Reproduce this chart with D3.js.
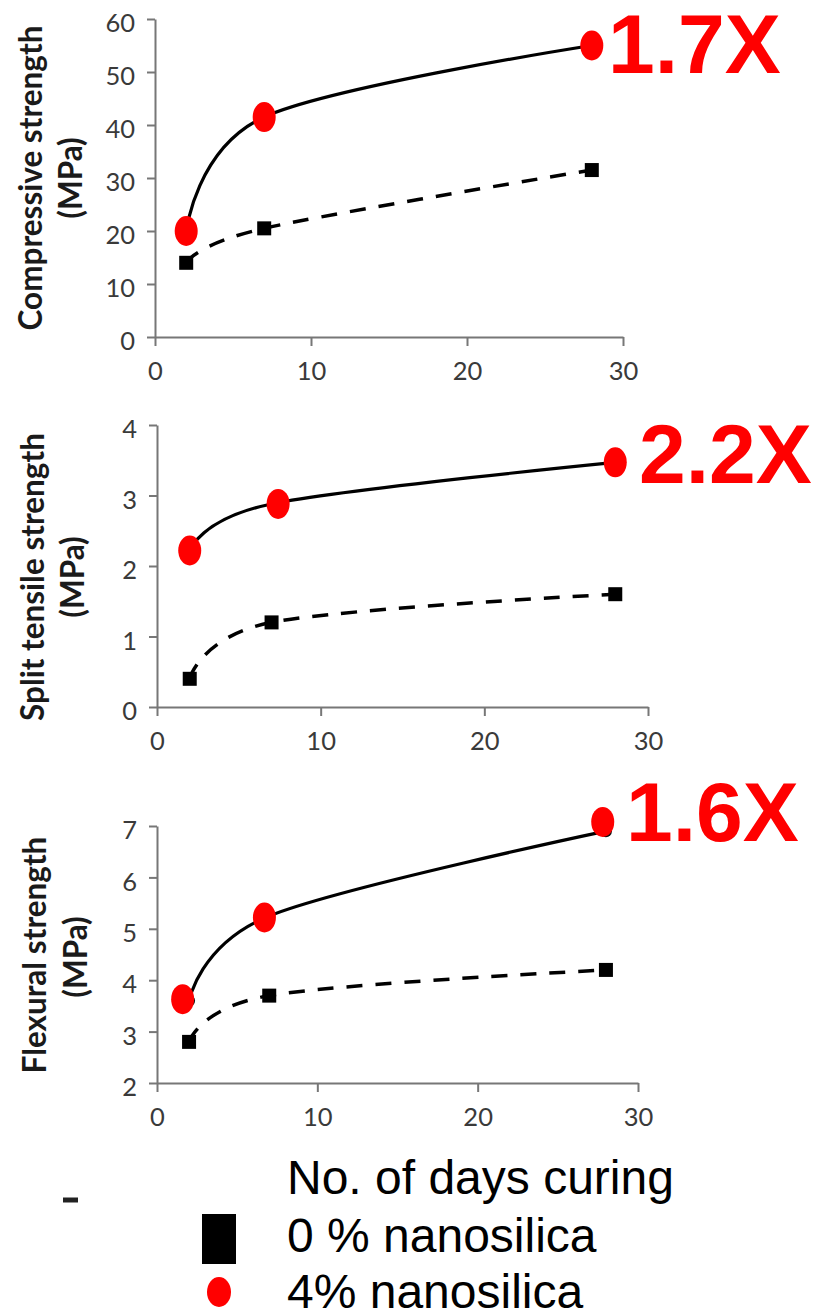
<!DOCTYPE html>
<html>
<head>
<meta charset="utf-8">
<script src="https://cdn.jsdelivr.net/npm/d3@7"></script>
<style>
  html, body { margin: 0; padding: 0; background: #fff; }
  svg { display: block; }
</style>
</head>
<body>
<svg id="chart" width="832" height="1312"></svg>
<script>
// ---------------- DATA ----------------
const daysCuring = [2, 7, 28];
const xTickValues = [0, 10, 20, 30];

const compressive0 = [14, 20.5, 31.5];
const compressive4 = [20, 41.5, 55];
const compressiveMarkerDays = [2, 7, 28];
const compressiveMarker4 = [20, 41.5, 55];
const compressiveTicks = [0, 10, 20, 30, 40, 50, 60];

const split0 = [0.4, 1.2, 1.6];
const split4 = [2.22, 2.88, 3.47];
const splitMarkerDays = [2, 7.4, 28];
const splitMarker4 = [2.22, 2.88, 3.47];
const splitTicks = [0, 1, 2, 3, 4];

const flexural0 = [2.8, 3.7, 4.2];
const flexural4 = [3.6, 5.25, 6.9];
const flexuralMarkerDays = [1.6, 6.7, 27.8];
const flexuralMarker4 = [3.63, 5.22, 7.08];
const flexuralTicks = [2, 3, 4, 5, 6, 7];

const yTitles = [
  ["Compressive strength", "(MPa)"],
  ["Split tensile strength", "(MPa)"],
  ["Flexural strength", "(MPa)"]
];
const ratioLabels = ["1.7X", "2.2X", "1.6X"];

const legendTitle = "No. of days curing";
const legendLabels = ["0 % nanosilica", "4% nanosilica"];

// ---------------- LAYOUT ----------------
const panels = [
  { base: compressive0, nano: compressive4, mDays: compressiveMarkerDays, mVals: compressiveMarker4,
    ticks: compressiveTicks, yDomain: [0, 60], xRange: [155, 623], yRange: [337, 19],
    t1: [42, 178], t2: [82, 178], ratio: [608, 73], blackDots: false },
  { base: split0, nano: split4, mDays: splitMarkerDays, mVals: splitMarker4,
    ticks: splitTicks, yDomain: [0, 4], xRange: [157, 648], yRange: [707, 425],
    t1: [44, 577], t2: [84, 577], ratio: [639, 483], blackDots: false },
  { base: flexural0, nano: flexural4, mDays: flexuralMarkerDays, mVals: flexuralMarker4,
    ticks: flexuralTicks, yDomain: [2, 7], xRange: [157, 638], yRange: [1083, 826],
    t1: [46, 955], t2: [87, 957], ratio: [626, 841], blackDots: true }
];

const svg = d3.select("#chart");
svg.append("rect").attr("width", 832).attr("height", 1312).attr("fill", "#fff");

const axisColor = "#777";
const tickTextColor = "#3a3a3a";
const calibriLike = "Lato, 'Open Sans', sans-serif";
const arialLike = "'Liberation Sans', Arial, Helvetica, sans-serif";

panels.forEach((p, i) => {
  const x = d3.scaleLinear().domain([0, 30]).range(p.xRange);
  const y = d3.scaleLinear().domain(p.yDomain).range(p.yRange);
  const g = svg.append("g");

  // axes
  const xAxis = g.append("g")
    .attr("transform", `translate(0,${p.yRange[0]})`)
    .call(d3.axisBottom(x).tickValues(xTickValues).tickSizeInner(9).tickSizeOuter(0).tickPadding(16).tickFormat(d3.format("d")));
  const yAxis = g.append("g")
    .attr("transform", `translate(${p.xRange[0]},0)`)
    .call(d3.axisLeft(y).tickValues(p.ticks).tickSizeInner(8).tickSizeOuter(0).tickPadding(12).tickFormat(d3.format("d")));
  [xAxis, yAxis].forEach(a => {
    a.selectAll("path.domain").attr("stroke", axisColor).attr("stroke-width", 2);
    a.selectAll(".tick line").attr("stroke", axisColor).attr("stroke-width", 2);
    a.selectAll(".tick text").attr("fill", tickTextColor)
      .attr("font-family", calibriLike).attr("font-size", 25.5);
  });
  yAxis.selectAll(".tick text").attr("dy", "0.5em");

  // y titles
  g.append("text")
    .attr("transform", `translate(${p.t1[0]},${p.t1[1]}) rotate(-90)`)
    .attr("text-anchor", "middle")
    .attr("font-family", calibriLike).attr("font-weight", "bold")
    .attr("font-size", 31.5).attr("fill", "#1a1a1a")
    .text(yTitles[i][0]);
  g.append("text")
    .attr("transform", `translate(${p.t2[0]},${p.t2[1]}) rotate(-90)`)
    .attr("text-anchor", "middle")
    .attr("font-family", calibriLike).attr("font-weight", "bold")
    .attr("font-size", 31.5).attr("fill", "#1a1a1a")
    .text(yTitles[i][1]);

  const line = d3.line().x(d => x(d[0])).y(d => y(d[1])).curve(d3.curveCardinal.tension(0));

  // 0% dashed series
  const baseData = daysCuring.map((d, k) => [d, p.base[k]]);
  g.append("path").datum(baseData)
    .attr("d", line).attr("fill", "none").attr("stroke", "#000")
    .attr("stroke-width", 3.5).attr("stroke-dasharray", "16,13");
  g.selectAll("rect.sq").data(baseData).enter().append("rect")
    .attr("x", d => x(d[0]) - 7).attr("y", d => y(d[1]) - 7)
    .attr("width", 14).attr("height", 14).attr("fill", "#000");

  // 4% solid series
  const nanoData = daysCuring.map((d, k) => [d, p.nano[k]]);
  g.append("path").datum(nanoData)
    .attr("d", line).attr("fill", "none").attr("stroke", "#000").attr("stroke-width", 3.2);
  if (p.blackDots) {
    g.selectAll("circle.bd").data(nanoData).enter().append("circle")
      .attr("cx", d => x(d[0])).attr("cy", d => y(d[1])).attr("r", 6).attr("fill", "#111");
  }
  const markData = p.mDays.map((d, k) => [d, p.mVals[k]]);
  g.selectAll("ellipse.rd").data(markData).enter().append("ellipse")
    .attr("cx", d => x(d[0])).attr("cy", d => y(d[1]))
    .attr("rx", 11.5).attr("ry", 15).attr("fill", "#ff0000");

  // ratio label
  g.append("text")
    .attr("x", p.ratio[0]).attr("y", p.ratio[1])
    .attr("font-family", arialLike).attr("font-weight", "bold")
    .attr("font-size", 84).attr("fill", "#ff0000")
    .text(ratioLabels[i]);
});

// ---------------- LEGEND ----------------
const lg = svg.append("g");
lg.append("line").attr("x1", 63).attr("x2", 78).attr("y1", 1200).attr("y2", 1200)
  .attr("stroke", "#222").attr("stroke-width", 5);
lg.append("text").attr("x", 287).attr("y", 1194)
  .attr("font-family", arialLike).attr("font-size", 48).attr("fill", "#000")
  .text(legendTitle);
lg.append("rect").attr("x", 202).attr("y", 1214).attr("width", 34).attr("height", 50).attr("fill", "#000");
lg.append("text").attr("x", 287).attr("y", 1252)
  .attr("font-family", arialLike).attr("font-size", 48).attr("fill", "#000")
  .text(legendLabels[0]);
lg.append("ellipse").attr("cx", 219).attr("cy", 1292).attr("rx", 12).attr("ry", 15).attr("fill", "#ff0000");
lg.append("text").attr("x", 287).attr("y", 1308)
  .attr("font-family", arialLike).attr("font-size", 48).attr("fill", "#000")
  .text(legendLabels[1]);
</script>
</body>
</html>
